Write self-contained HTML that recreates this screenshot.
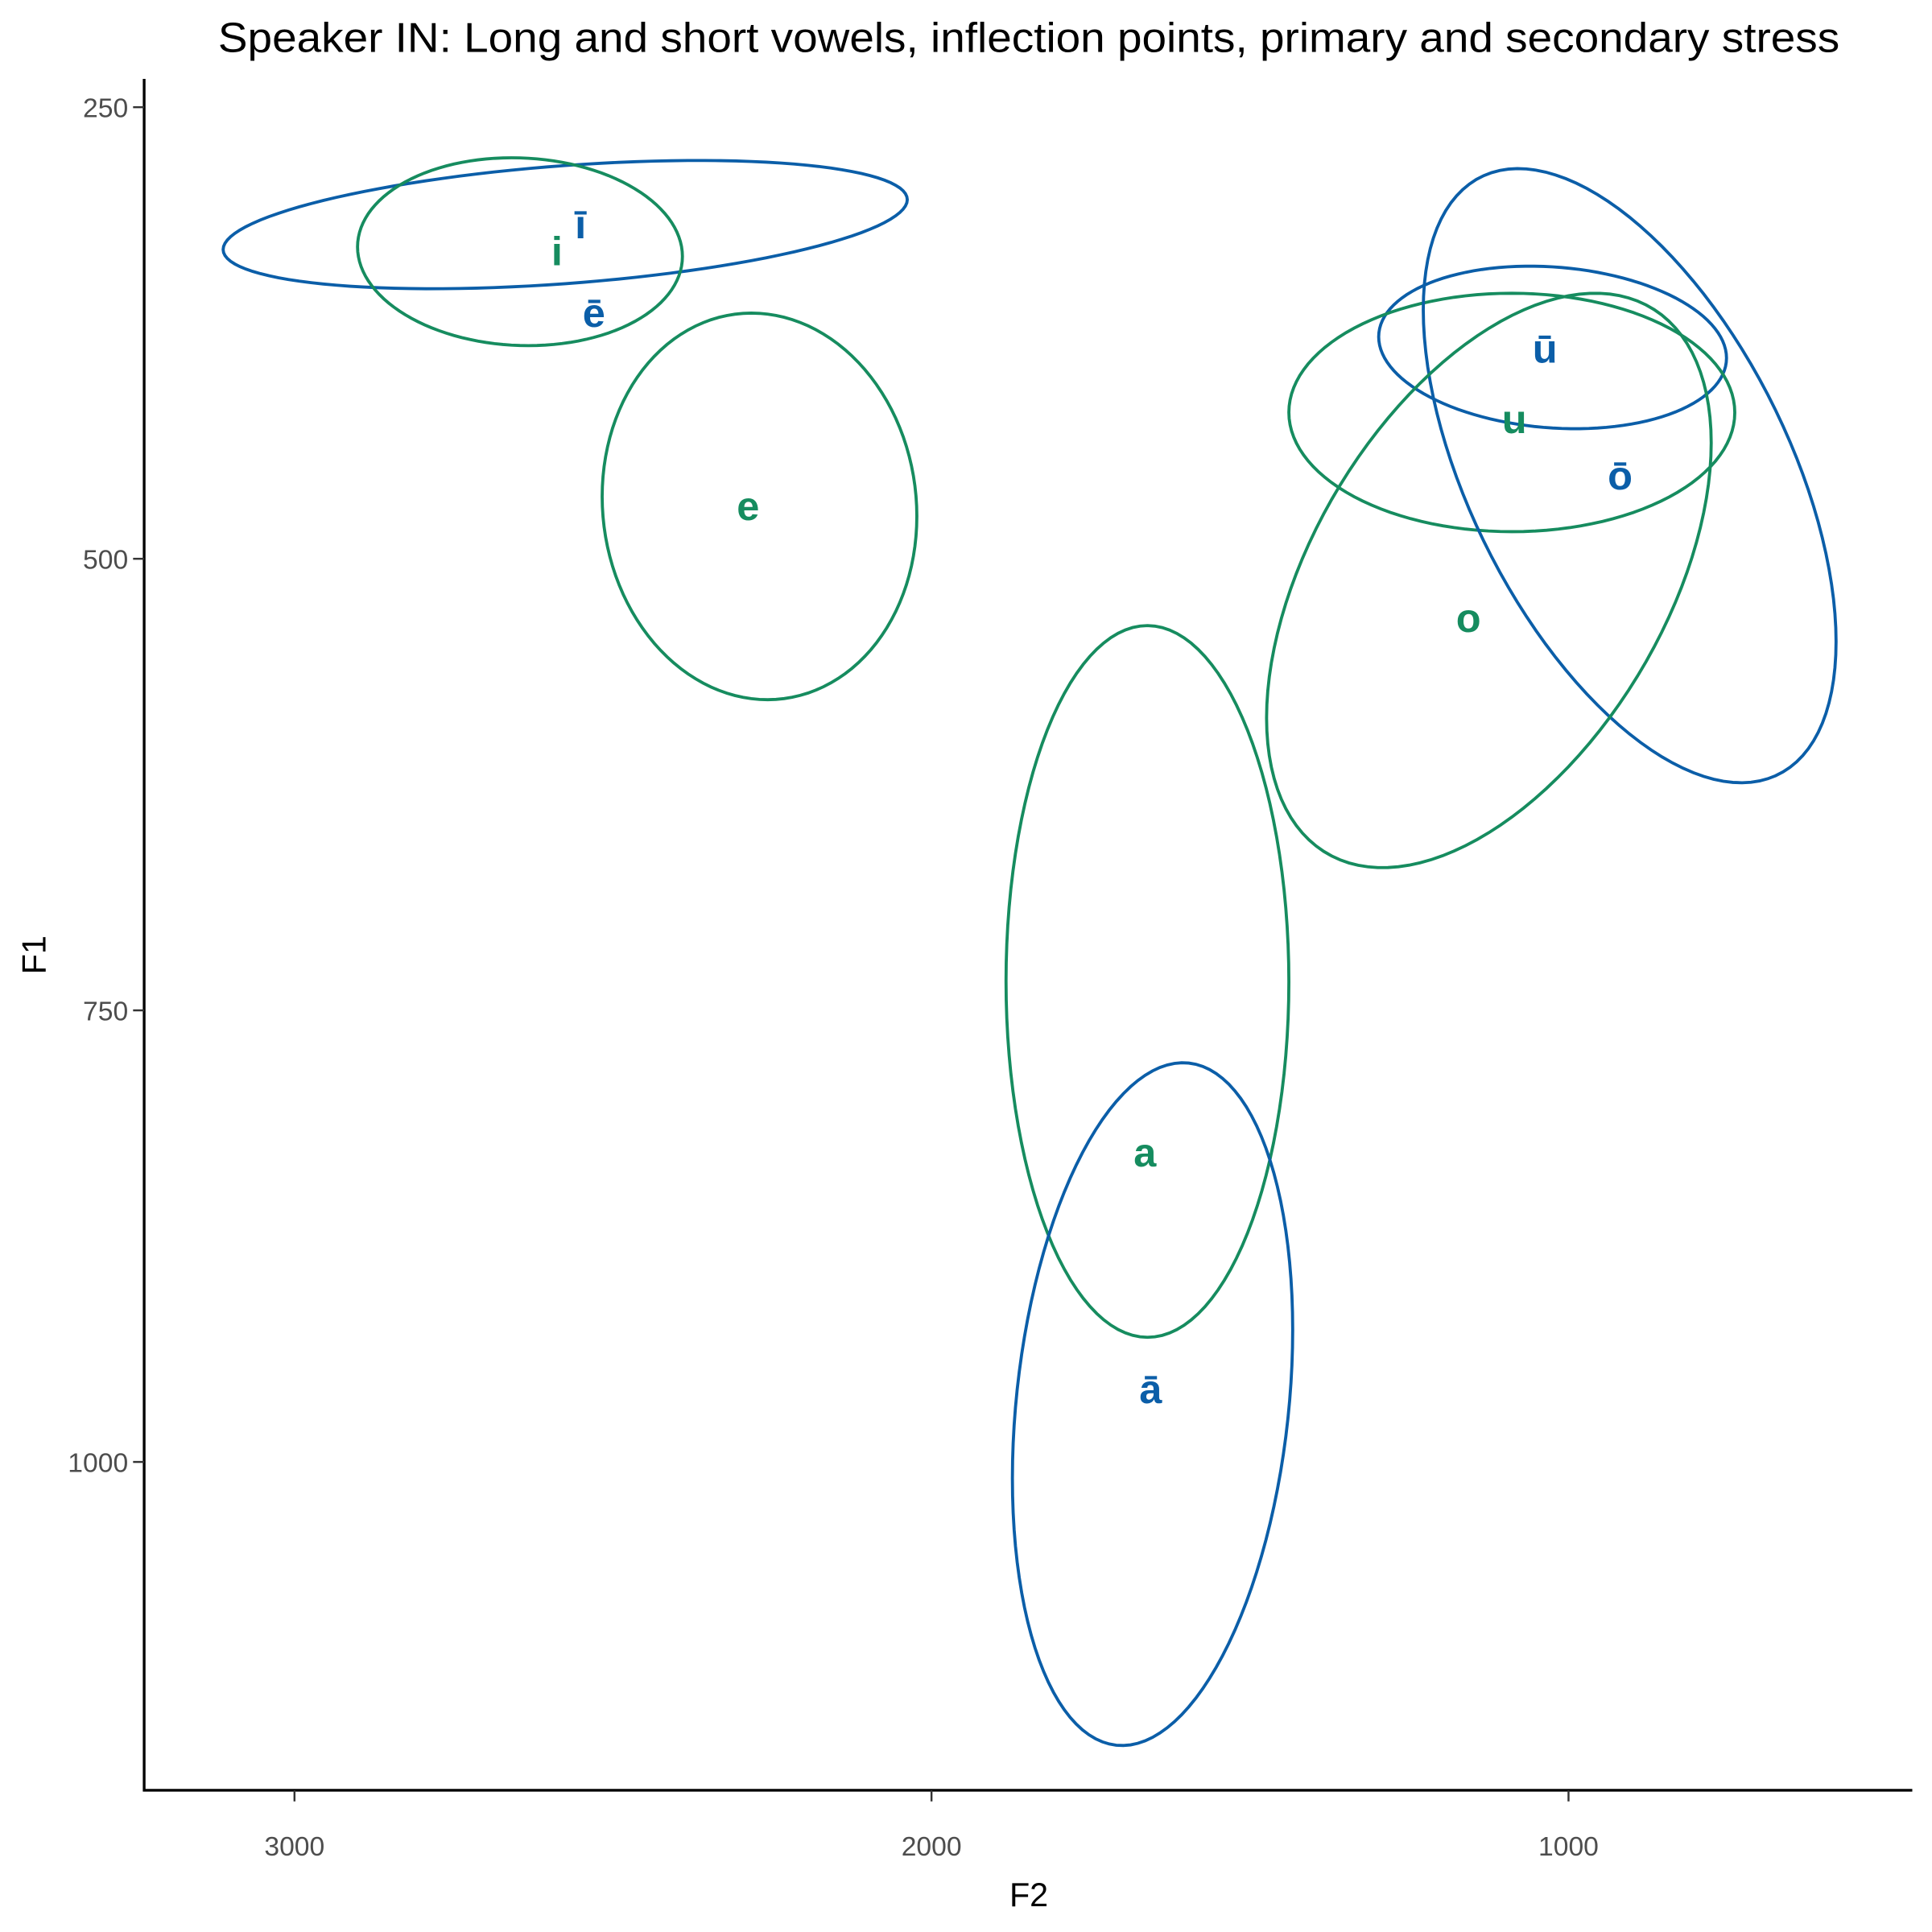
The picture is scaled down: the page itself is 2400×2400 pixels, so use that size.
<!DOCTYPE html>
<html><head><meta charset="utf-8"><style>
html,body{margin:0;padding:0;background:#fff}
svg{display:block}
text{font-family:"Liberation Sans",Arial,sans-serif}
</style></head><body>
<svg id="chart" width="2400" height="2400" viewBox="0 0 1568 1568" xmlns="http://www.w3.org/2000/svg">
<rect width="1568" height="1568" fill="#fff"/>
<text x="835" y="42" font-size="34" text-anchor="middle" fill="#000" textLength="1316" lengthAdjust="spacingAndGlyphs">Speaker IN: Long and short vowels, inflection points, primary and secondary stress</text>
<g id="marks"></g>
<line x1="117" y1="64" x2="117" y2="1454" stroke="#000" stroke-width="2.2"/>
<line x1="116" y1="1453" x2="1552" y2="1453" stroke="#000" stroke-width="2.2"/>
<g id="axes"></g>
<text x="835" y="1547" font-size="27" text-anchor="middle" fill="#000">F2</text>
<text x="0" y="0" font-size="27" text-anchor="middle" fill="#000" transform="translate(37,775) rotate(-90)">F1</text>
</svg>
<script>
const vowels=['ī','i','e','a','ā','ū','u','ō','o'];
const groups=['long','short','short','short','long','long','short','long','short'];
const centerF2=[2575,2646,2270,1661,1653,1025,1089,904,1125];
const centerF1=[315,330,471,734,968,383,419,454,512];
const radiusF2=[537,255,247,222,220,273,350,324,349];
const radiusF1=[35.5,52,107,197,189,45,66,170,159];
const tilt=[1.97,1.52,1.52,1.57,1.79,1.44,1.57,1.0,2.07];
const labelVowels=['ī','i','ē','e','a','ā','ū','u','ō','o'];
const labelGroups=['long','short','long','short','short','long','long','short','long','short'];
const labelF2=[2551,2588,2530,2288,1665,1656,1037,1085,919,1157];
const labelF1=[315,330,364,471,829,960,384,423,454,533];
const xTicks=[3000,2000,1000];
const yTicks=[250,500,750,1000];
const colors={long:'#0b5ea8',short:'#168c5f'};
const xs=v=>239+(3000-v)*0.517;
const ys=v=>87+(v-250)*(366.5/250);
const NS='http://www.w3.org/2000/svg';
const marks=document.getElementById('marks');
vowels.forEach((v,i)=>{
  const cx=xs(centerF2[i]),cy=ys(centerF1[i]);
  const rx=radiusF2[i]*0.517,ry=radiusF1[i]*(366.5/250);
  let d='';
  for(let k=0;k<=120;k++){const t=k/120*2*Math.PI;
    const x=cx+rx*Math.cos(t),y=cy+ry*Math.cos(t-tilt[i]);
    d+=(k?'L':'M')+x.toFixed(2)+','+y.toFixed(2);}
  const p=document.createElementNS(NS,'path');
  p.setAttribute('d',d+'Z');p.setAttribute('fill','none');
  p.setAttribute('stroke',colors[groups[i]]);p.setAttribute('stroke-width','2.5');
  
  
  marks.appendChild(p);
});
labelVowels.forEach((v,i)=>{
  const t=document.createElementNS(NS,'text');
  t.setAttribute('x',xs(labelF2[i]));t.setAttribute('y',ys(labelF1[i])+11);
  t.setAttribute('text-anchor','middle');t.setAttribute('font-size','33');t.setAttribute('font-weight','bold');
  t.setAttribute('fill',colors[labelGroups[i]]);t.textContent=v;
  
  
  marks.appendChild(t);
});
const axes=document.getElementById('axes');
xTicks.forEach(v=>{
  const l=document.createElementNS(NS,'line');
  l.setAttribute('x1',xs(v));l.setAttribute('x2',xs(v));l.setAttribute('y1',1453);l.setAttribute('y2',1462);
  l.setAttribute('stroke','#333');l.setAttribute('stroke-width','1.6');
  
  
  axes.appendChild(l);
  const t=document.createElementNS(NS,'text');
  t.setAttribute('x',xs(v));t.setAttribute('y',1506);t.setAttribute('text-anchor','middle');
  t.setAttribute('font-size','22');t.setAttribute('fill','#4d4d4d');t.textContent=v;
  
  
  axes.appendChild(t);
});
yTicks.forEach(v=>{
  const l=document.createElementNS(NS,'line');
  l.setAttribute('x1',108);l.setAttribute('x2',117);l.setAttribute('y1',ys(v));l.setAttribute('y2',ys(v));
  l.setAttribute('stroke','#333');l.setAttribute('stroke-width','1.6');
  
  
  axes.appendChild(l);
  const t=document.createElementNS(NS,'text');
  t.setAttribute('x',104);t.setAttribute('y',ys(v)+8);t.setAttribute('text-anchor','end');
  t.setAttribute('font-size','22');t.setAttribute('fill','#4d4d4d');t.textContent=v;
  
  
  axes.appendChild(t);
});
</script>
</body></html>
